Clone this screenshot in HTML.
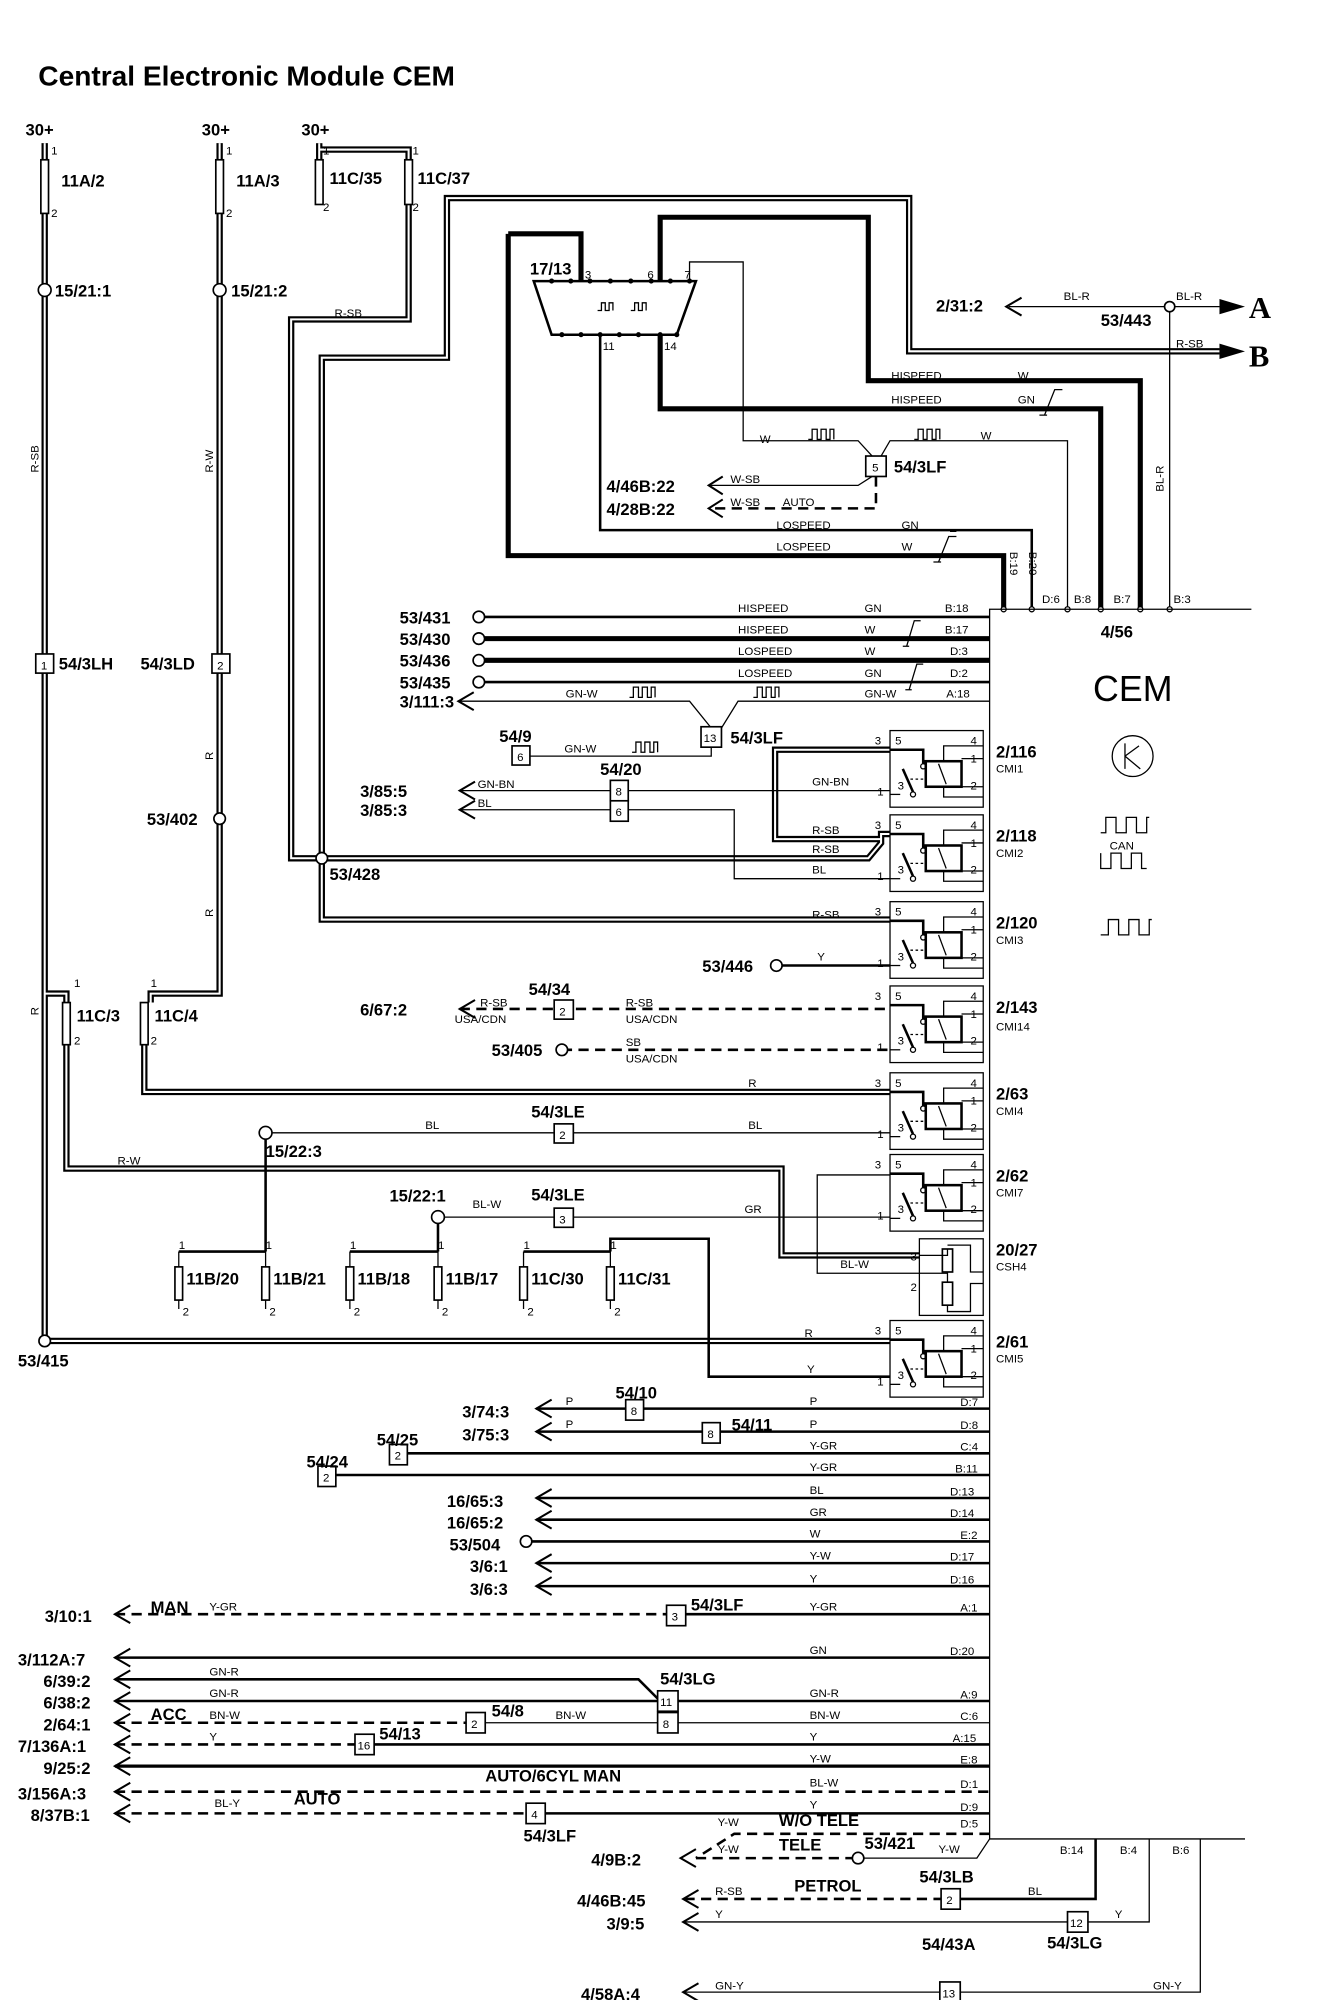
<!DOCTYPE html>
<html><head><meta charset="utf-8"><style>
html,body{margin:0;padding:0;background:#fff}
svg{display:block}
text{font-family:"Liberation Sans",sans-serif;fill:#000}
.b{font-weight:bold;font-size:13px}
.s{font-size:9px}
.p{font-size:9px}
.t{fill:none;stroke:#000;stroke-width:1}
.m{fill:none;stroke:#000;stroke-width:2}
.k{fill:none;stroke:#000;stroke-width:4}
.d{fill:none;stroke:#000;stroke-width:2;stroke-dasharray:8,5}
.bx{fill:#fff;stroke:#000;stroke-width:1.3}
.ar{fill:none;stroke:#000;stroke-width:1.6}
</style></head><body>
<svg width="1328" height="2000" viewBox="0 0 1040 1566" xmlns="http://www.w3.org/2000/svg">
<defs>
<g id="D" fill="none">
<path d="M35,112 V1050 H697"/>
<path d="M172,112 V778 H118 V785"/>
<path d="M35,778 H52 V785"/>
<path d="M52,818 V915 H612 V983 H720"/>
<path d="M113,818 V855 H697"/>
<path d="M250,112 V125"/>
<path d="M250,117 H320 V125"/>
<path d="M320,160 V250 H228 V672 H680 L690,660 V653 H697"/>
<path d="M697,720 H252 V280 H350 V155 H712 V275 H955"/>
<path d="M697,587 H607 V657 H690"/>
</g>
<g id="R">
<rect x="0" y="0" width="73" height="60" class="t" stroke-width="1.3"/>
<path class="m" d="M0,15 H26 V26"/>
<circle cx="26" cy="28" r="2" class="t"/>
<path class="m" d="M10,30 L18,48"/>
<circle cx="18" cy="50" r="2" class="t"/>
<path class="t" d="M0,50 H8"/>
<rect x="28" y="24" width="28" height="20" class="m"/>
<path class="t" d="M38,26 L44,42"/>
<path class="t" stroke-dasharray="2,2" d="M16,38 H28"/>
<path class="t" d="M56,22 H73 M42,24 V12 H73 M56,44 H73 M42,44 V52 H73"/>
</g>
</defs>

<text x="30" y="67" style="font-weight:bold;font-size:22px">Central Electronic Module CEM</text>

<!-- double wires -->
<use href="#D" stroke="#000" stroke-width="5"/>
<use href="#D" stroke="#fff" stroke-width="1.6"/>

<!-- top labels and fuses -->
<text x="20" y="106" class="b">30+</text>
<text x="158" y="106" class="b">30+</text>
<text x="236" y="106" class="b">30+</text>
<g class="bx">
<rect x="32" y="125" width="6" height="42"/><rect x="169" y="125" width="6" height="42"/>
<rect x="247" y="125" width="6" height="35"/><rect x="317" y="125" width="6" height="35"/>
<rect x="49" y="785" width="6" height="33"/><rect x="110" y="785" width="6" height="33"/>
</g>
<g class="s"><text x="40" y="121">1</text><text x="40" y="170">2</text><text x="177" y="121">1</text><text x="177" y="170">2</text>
<text x="253" y="121">1</text><text x="253" y="165">2</text><text x="323" y="121">1</text><text x="323" y="165">2</text>
<text x="58" y="773">1</text><text x="58" y="818">2</text><text x="118" y="773">1</text><text x="118" y="818">2</text></g>
<text x="48" y="146" class="b">11A/2</text><text x="185" y="146" class="b">11A/3</text>
<text x="258" y="144" class="b">11C/35</text><text x="327" y="144" class="b">11C/37</text>
<text x="60" y="800" class="b">11C/3</text><text x="121" y="800" class="b">11C/4</text>
<circle cx="35" cy="227" r="5" class="bx"/><circle cx="172" cy="227" r="5" class="bx"/>
<text x="43" y="232" class="b">15/21:1</text><text x="181" y="232" class="b">15/21:2</text>
<text x="30" y="370" class="s" transform="rotate(-90 30 370)">R-SB</text>
<text x="167" y="370" class="s" transform="rotate(-90 167 370)">R-W</text>
<text x="167" y="595" class="s" transform="rotate(-90 167 595)">R</text>
<text x="167" y="718" class="s" transform="rotate(-90 167 718)">R</text>
<text x="30" y="795" class="s" transform="rotate(-90 30 795)">R</text>
<text x="262" y="248" class="s">R-SB</text>
<rect x="28" y="512" width="14" height="15" class="bx"/><text x="32" y="524" class="s">1</text>
<text x="46" y="524" class="b">54/3LH</text>
<rect x="166" y="512" width="14" height="15" class="bx"/><text x="170" y="524" class="s">2</text>
<text x="110" y="524" class="b">54/3LD</text>
<circle cx="172" cy="641" r="4.5" class="bx"/><text x="115" y="646" class="b">53/402</text>
<circle cx="252" cy="672" r="4.5" class="bx"/><text x="258" y="689" class="b">53/428</text>
<circle cx="35" cy="1050" r="4.5" class="bx"/><text x="14" y="1070" class="b">53/415</text>
<text x="92" y="912" class="s">R-W</text>

<!-- diag connector -->
<path d="M418,220 H545 L530,262 H432 Z" class="m" stroke-width="1.5"/>
<g fill="#000"><circle cx="432" cy="220" r="2"/><circle cx="447" cy="220" r="2"/><circle cx="462" cy="220" r="2"/><circle cx="478" cy="220" r="2"/><circle cx="494" cy="220" r="2"/><circle cx="510" cy="220" r="2"/><circle cx="525" cy="220" r="2"/><circle cx="540" cy="220" r="2"/>
<circle cx="440" cy="262" r="2"/><circle cx="455" cy="262" r="2"/><circle cx="470" cy="262" r="2"/><circle cx="485" cy="262" r="2"/><circle cx="500" cy="262" r="2"/><circle cx="517" cy="262" r="2"/><circle cx="530" cy="262" r="2"/></g>
<text x="415" y="215" class="b">17/13</text><text x="458" y="218" class="s">3</text><text x="507" y="218" class="s">6</text><text x="536" y="218" class="s">7</text>
<text x="472" y="274" class="s">11</text><text x="520" y="274" class="s">14</text>
<path class="t" d="M468,243 h3 v-6 h3 v6 h3 v-6 h3 v6 M494,243 h3 v-6 h3 v6 h3 v-6 h3 v6"/>

<path class="k" d="M398,183 H455 V220 M398,183 V435 H786 V477"/>
<path class="k" d="M517,220 V170 H680 V298 H893 V477"/>
<path class="k" stroke-width="3.5" d="M517,262 V320 H862 V477"/>
<path class="m" stroke-width="3" d="M470,262 V415 H808 V477"/>
<path class="t" d="M540,220 V205 H582 V345 H672 L683,357 M690,357 L697,345 H836 V477"/>
<text x="698" y="297" class="s">HISPEED</text><text x="797" y="297" class="s">W</text>
<text x="698" y="316" class="s">HISPEED</text><text x="797" y="316" class="s">GN</text>
<text x="608" y="414" class="s">LOSPEED</text><text x="706" y="414" class="s">GN</text>
<text x="608" y="431" class="s">LOSPEED</text><text x="706" y="431" class="s">W</text>
<path class="t" d="M818,325 l8,-20 h6 M735,440 l8,-20 h6 M737,440 h-6 M820,325 h-6 M744,416 h5"/>
<text x="595" y="347" class="s">W</text><text x="768" y="344" class="s">W</text>
<path class="t" d="M633,344 h3 v-8 h4 v8 h3 v-8 h4 v8 h3 v-8 h3 v8 M716,344 h3 v-8 h4 v8 h3 v-8 h4 v8 h3 v-8 h3 v8"/>
<rect x="678" y="357" width="16" height="16" class="bx"/><text x="683" y="369" class="s">5</text>
<text x="700" y="370" class="b">54/3LF</text>
<path class="t" stroke-width="1.5" d="M683,373 L672,380 H555"/>
<path class="d" stroke-width="1.5" d="M686,373 V398 H555"/>
<path class="ar" d="M566,373 L555,380 L566,387 M566,391 L555,398 L566,405"/>
<text x="475" y="385" class="b">4/46B:22</text><text x="475" y="403" class="b">4/28B:22</text>
<text x="572" y="378" class="s">W-SB</text><text x="572" y="396" class="s">W-SB</text><text x="613" y="396" class="s">AUTO</text>

<!-- A/B -->
<path class="t" d="M790,240 H955 M916,240 V477"/>
<path class="ar" d="M800,233 L788,240 L800,247"/>
<path d="M955,234 L975,240 L955,246 Z M955,269 L975,275 L955,281 Z"/>
<circle cx="916" cy="240" r="4" class="bx"/>
<text x="733" y="244" class="b">2/31:2</text><text x="833" y="235" class="s">BL-R</text><text x="921" y="235" class="s">BL-R</text>
<text x="862" y="255" class="b">53/443</text><text x="921" y="272" class="s">R-SB</text>
<text x="978" y="249" style="font-family:'Liberation Serif',serif;font-weight:bold;font-size:24px">A</text>
<text x="978" y="287" style="font-family:'Liberation Serif',serif;font-weight:bold;font-size:24px">B</text>
<text x="911" y="385" class="s" transform="rotate(-90 911 385)">BL-R</text>
<text x="791" y="432" class="s" transform="rotate(90 791 432)">B:19</text>
<text x="806" y="432" class="s" transform="rotate(90 806 432)">B:20</text>
<g class="p"><text x="816" y="472">D:6</text><text x="841" y="472">B:8</text><text x="872" y="472">B:7</text><text x="919" y="472">B:3</text></g>
<g fill="#fff" stroke="#000"><circle cx="786" cy="477" r="2"/><circle cx="808" cy="477" r="2"/><circle cx="836" cy="477" r="2"/><circle cx="862" cy="477" r="2"/><circle cx="893" cy="477" r="2"/><circle cx="916" cy="477" r="2"/></g>

<!-- CEM -->
<path class="t" stroke-width="1.5" d="M980,477 H775 V1440 H975"/>
<text x="862" y="499" class="b">4/56</text>
<text x="856" y="549" style="font-size:28px">CEM</text>
<circle cx="887" cy="592" r="16" class="t" stroke-width="1.5"/>
<path class="t" stroke-width="1.5" d="M881,582 V602 M881,592 L892,584 M881,592 L893,602"/>
<path class="t" stroke-width="1.5" d="M862,652 h4 v-12 h8 v12 h8 v-12 h8 v12 h8 v-12 h2 M862,668 v12 h8 v-12 h8 v12 h8 v-12 h8 v12 h4"/>
<text x="869" y="665" class="s">CAN</text>
<path class="t" stroke-width="1.5" d="M862,732 h6 v-12 h8 v12 h8 v-12 h8 v12 h8 v-12 h2"/>

<!-- upper CEM wires -->
<path class="m" stroke-width="3" d="M375,483 H775"/>
<path class="k" stroke-width="5" d="M375,500 H775"/>
<path class="k" d="M375,517 H775"/>
<path class="m" stroke-width="3" d="M375,534 H775"/>
<g class="bx"><circle cx="375" cy="483" r="4.5"/><circle cx="375" cy="500" r="4.5"/><circle cx="375" cy="517" r="4.5"/><circle cx="375" cy="534" r="4.5"/></g>
<text x="313" y="488" class="b">53/431</text><text x="313" y="505" class="b">53/430</text><text x="313" y="522" class="b">53/436</text><text x="313" y="539" class="b">53/435</text>
<text x="578" y="479" class="s">HISPEED</text><text x="677" y="479" class="s">GN</text><text x="740" y="479" class="p">B:18</text>
<text x="578" y="496" class="s">HISPEED</text><text x="677" y="496" class="s">W</text><text x="740" y="496" class="p">B:17</text>
<text x="578" y="513" class="s">LOSPEED</text><text x="677" y="513" class="s">W</text><text x="744" y="513" class="p">D:3</text>
<text x="578" y="530" class="s">LOSPEED</text><text x="677" y="530" class="s">GN</text><text x="744" y="530" class="p">D:2</text>
<path class="t" d="M710,506 l6,-20 h5 M712,506 h-5 M712,540 l6,-20 h5 M714,540 h-5"/>
<path class="t" stroke-width="1.5" d="M360,549 H540 L557,570 M565,570 L578,549 H775"/>
<path class="ar" d="M371,542 L359,549 L371,556"/>
<text x="313" y="554" class="b">3/111:3</text>
<text x="443" y="546" class="s">GN-W</text><text x="677" y="546" class="s">GN-W</text><text x="741" y="546" class="p">A:18</text>
<path class="t" d="M493,546 h3 v-8 h4 v8 h3 v-8 h4 v8 h3 v-8 h3 v8 M590,546 h3 v-8 h4 v8 h3 v-8 h4 v8 h3 v-8 h3 v8 M495,589 h3 v-8 h4 v8 h3 v-8 h4 v8 h3 v-8 h3 v8"/>
<rect x="549" y="569" width="16" height="16" class="bx"/><text x="551" y="581" class="s">13</text>
<text x="572" y="582" class="b">54/3LF</text>
<path class="t" stroke-width="1.5" d="M415,592 H557 V585"/>
<rect x="401" y="584" width="14" height="15" class="bx"/><text x="405" y="596" class="s">6</text>
<text x="391" y="581" class="b">54/9</text><text x="442" y="589" class="s">GN-W</text>

<path class="t" d="M360,619 H697"/>
<path class="t" stroke-width="1.5" d="M360,634 H575 V688 H697"/>
<path class="ar" d="M372,612 L360,619 L372,626 M372,627 L360,634 L372,641"/>
<rect x="478" y="611" width="14" height="16" class="bx"/><text x="482" y="623" class="s">8</text>
<rect x="478" y="627" width="14" height="16" class="bx"/><text x="482" y="639" class="s">6</text>
<text x="470" y="607" class="b">54/20</text>
<text x="282" y="624" class="b">3/85:5</text><text x="282" y="639" class="b">3/85:3</text>
<text x="374" y="617" class="s">GN-BN</text><text x="374" y="632" class="s">BL</text><text x="636" y="615" class="s">GN-BN</text>
<text x="636" y="653" class="s">R-SB</text><text x="636" y="668" class="s">R-SB</text><text x="636" y="684" class="s">BL</text>
<text x="636" y="719" class="s">R-SB</text>

<path class="m" d="M612,756 H697"/>
<circle cx="608" cy="756" r="4.5" class="bx"/><text x="550" y="761" class="b">53/446</text><text x="640" y="752" class="s">Y</text>

<path class="d" stroke-width="1.5" d="M360,790 H697 M440,822 H697"/>
<path class="ar" d="M372,783 L360,790 L372,797"/>
<rect x="434" y="783" width="15" height="15" class="bx"/><text x="438" y="795" class="s">2</text>
<text x="414" y="779" class="b">54/34</text><text x="282" y="795" class="b">6/67:2</text>
<circle cx="440" cy="822" r="4.5" class="bx"/><text x="385" y="827" class="b">53/405</text>
<text x="376" y="788" class="s">R-SB</text><text x="356" y="801" class="s">USA/CDN</text>
<text x="490" y="788" class="s">R-SB</text><text x="490" y="801" class="s">USA/CDN</text>
<text x="490" y="819" class="s">SB</text><text x="490" y="832" class="s">USA/CDN</text>
<text x="586" y="851" class="s">R</text>

<!-- 15/22 -->
<circle cx="208" cy="887" r="5" class="bx"/>
<path class="t" stroke-width="1.5" d="M213,887 H697"/>
<path class="m" d="M208,892 V980"/>
<rect x="434" y="880" width="15" height="15" class="bx"/><text x="438" y="892" class="s">2</text>
<text x="416" y="875" class="b">54/3LE</text><text x="208" y="906" class="b">15/22:3</text>
<text x="333" y="884" class="s">BL</text><text x="586" y="884" class="s">BL</text>
<circle cx="343" cy="953" r="5" class="bx"/>
<path class="t" stroke-width="1.5" d="M348,953 H697"/>
<path class="m" d="M343,958 V980"/>
<rect x="434" y="946" width="15" height="15" class="bx"/><text x="438" y="958" class="s">3</text>
<text x="416" y="940" class="b">54/3LE</text><text x="305" y="941" class="b">15/22:1</text>
<text x="370" y="946" class="s">BL-W</text><text x="583" y="950" class="s">GR</text>
<path class="m" stroke-width="2.5" d="M140,980 H208 M274,980 H343 M410,980 H478 M478,980 V970 H555 V1078 H697"/>
<path class="t" d="M697,920 H640 V997 H720"/>
<text x="658" y="993" class="s">BL-W</text>
<g class="bx"><rect x="137" y="992" width="6" height="26"/><rect x="205" y="992" width="6" height="26"/><rect x="271" y="992" width="6" height="26"/><rect x="340" y="992" width="6" height="26"/><rect x="407" y="992" width="6" height="26"/><rect x="475" y="992" width="6" height="26"/></g>
<path class="t" d="M140,980 V992 M208,980 V992 M274,980 V992 M343,980 V992 M410,980 V992 M478,980 V992 M140,1018 V1025 M208,1018 V1025 M274,1018 V1025 M343,1018 V1025 M410,1018 V1025 M478,1018 V1025"/>
<g class="s"><text x="140" y="978">1</text><text x="208" y="978">1</text><text x="274" y="978">1</text><text x="343" y="978">1</text><text x="410" y="978">1</text><text x="478" y="978">1</text>
<text x="143" y="1030">2</text><text x="211" y="1030">2</text><text x="277" y="1030">2</text><text x="346" y="1030">2</text><text x="413" y="1030">2</text><text x="481" y="1030">2</text></g>
<g class="b"><text x="146" y="1006">11B/20</text><text x="214" y="1006">11B/21</text><text x="280" y="1006">11B/18</text><text x="349" y="1006">11B/17</text><text x="416" y="1006">11C/30</text><text x="484" y="1006">11C/31</text></g>
<text x="630" y="1047" class="s">R</text><text x="632" y="1075" class="s">Y</text>

<!-- relays -->
<use href="#R" x="697" y="572"/><use href="#R" x="697" y="638"/><use href="#R" x="697" y="706"/>
<use href="#R" x="697" y="772"/><use href="#R" x="697" y="840"/><use href="#R" x="697" y="904"/><use href="#R" x="697" y="1034"/>
<g class="s">
<text x="701" y="583">5</text><text x="760" y="583">4</text><text x="760" y="597">1</text><text x="703" y="618">3</text><text x="760" y="618">2</text><text x="685" y="583">3</text><text x="687" y="623">1</text>
<text x="701" y="649">5</text><text x="760" y="649">4</text><text x="760" y="663">1</text><text x="703" y="684">3</text><text x="760" y="684">2</text><text x="685" y="649">3</text><text x="687" y="689">1</text>
<text x="701" y="717">5</text><text x="760" y="717">4</text><text x="760" y="731">1</text><text x="703" y="752">3</text><text x="760" y="752">2</text><text x="685" y="717">3</text><text x="687" y="757">1</text>
<text x="701" y="783">5</text><text x="760" y="783">4</text><text x="760" y="797">1</text><text x="703" y="818">3</text><text x="760" y="818">2</text><text x="685" y="783">3</text><text x="687" y="823">1</text>
<text x="701" y="851">5</text><text x="760" y="851">4</text><text x="760" y="865">1</text><text x="703" y="886">3</text><text x="760" y="886">2</text><text x="685" y="851">3</text><text x="687" y="891">1</text>
<text x="701" y="915">5</text><text x="760" y="915">4</text><text x="760" y="929">1</text><text x="703" y="950">3</text><text x="760" y="950">2</text><text x="685" y="915">3</text><text x="687" y="955">1</text>
<text x="701" y="1045">5</text><text x="760" y="1045">4</text><text x="760" y="1059">1</text><text x="703" y="1080">3</text><text x="760" y="1080">2</text><text x="685" y="1045">3</text><text x="687" y="1085">1</text>
</g>
<g class="b"><text x="780" y="593">2/116</text><text x="780" y="659">2/118</text><text x="780" y="727">2/120</text><text x="780" y="793">2/143</text><text x="780" y="861">2/63</text><text x="780" y="925">2/62</text><text x="780" y="983">20/27</text><text x="780" y="1055">2/61</text></g>
<g class="p"><text x="780" y="605">CMI1</text><text x="780" y="671">CMI2</text><text x="780" y="739">CMI3</text><text x="780" y="807">CMI14</text><text x="780" y="873">CMI4</text><text x="780" y="937">CMI7</text><text x="780" y="995">CSH4</text><text x="780" y="1067">CMI5</text></g>
<!-- CSH4 -->
<rect x="720" y="970" width="50" height="60" class="t" stroke-width="1.3"/>
<rect x="738" y="978" width="8" height="18" class="bx"/><rect x="738" y="1004" width="8" height="18" class="bx"/>
<path class="t" stroke-width="1.5" d="M720,983 H742 V978 M742,996 V1004 M720,997 H742 M742,1022 V1027 H760 V1005 H770 M742,975 H760 V996 H770"/>
<text x="713" y="987" class="s">3</text><text x="713" y="1011" class="s">2</text>

<!-- lower wires -->
<g class="m">
<path d="M420,1103 H775"/><path d="M420,1121 H775"/><path d="M319,1138 H775"/><path d="M263,1155 H775"/>
<path d="M420,1173 H775"/><path d="M420,1190 H775"/><path d="M412,1207 H775"/><path d="M420,1224 H775"/><path d="M420,1242 H775"/>
<path d="M537,1264 H775"/><path d="M90,1298 H775"/><path d="M90,1315 H500 L515,1330"/><path d="M90,1332 H775"/>
<path d="M292,1366 H775"/><path d="M90,1383 H775" stroke-width="2.5"/><path d="M427,1420 H775"/>
</g>
<path class="t" d="M380,1349 H775"/>
<g class="d" stroke-width="1.5">
<path d="M90,1264 H522"/><path d="M90,1349 H365"/><path d="M90,1366 H278"/><path d="M90,1403 H775"/><path d="M90,1420 H412"/>
<path d="M775,1436 H575 L545,1455"/><path d="M545,1455 H672"/><path d="M752,1487 H535"/>
</g>
<path class="t" stroke-width="1.5" d="M672,1455 H765 L775,1440"/>
<path class="m" d="M858,1440 V1487 H752"/>
<path class="t" stroke-width="1.5" d="M900,1440 V1505 H535 M940,1440 V1560 H535"/>
<g class="ar">
<path d="M432,1096 L420,1103 L432,1110 M432,1114 L420,1121 L432,1128 M432,1166 L420,1173 L432,1180 M432,1183 L420,1190 L432,1197 M432,1217 L420,1224 L432,1231 M432,1235 L420,1242 L432,1249"/>
<path d="M102,1257 L90,1264 L102,1271 M102,1291 L90,1298 L102,1305 M102,1308 L90,1315 L102,1322 M102,1325 L90,1332 L102,1339 M102,1342 L90,1349 L102,1356 M102,1359 L90,1366 L102,1373 M102,1376 L90,1383 L102,1390 M102,1396 L90,1403 L102,1410 M102,1413 L90,1420 L102,1427"/>
<path d="M545,1448 L533,1455 L545,1462 M547,1480 L535,1487 L547,1494 M547,1498 L535,1505 L547,1512 M547,1553 L535,1560 L547,1567"/>
</g>
<circle cx="412" cy="1207" r="4.5" class="bx"/><circle cx="672" cy="1455" r="4.5" class="bx"/>
<g class="bx">
<rect x="490" y="1096" width="14" height="16"/><rect x="550" y="1114" width="14" height="16"/><rect x="305" y="1131" width="14" height="16"/><rect x="249" y="1148" width="14" height="16"/>
<rect x="522" y="1257" width="15" height="16"/><rect x="515" y="1324" width="16" height="16"/><rect x="515" y="1341" width="16" height="16"/><rect x="365" y="1341" width="15" height="16"/>
<rect x="278" y="1358" width="15" height="16"/><rect x="412" y="1412" width="15" height="16"/><rect x="737" y="1479" width="15" height="16"/><rect x="836" y="1497" width="16" height="16"/><rect x="736" y="1552" width="16" height="16"/>
</g>
<g class="s">
<text x="494" y="1108">8</text><text x="554" y="1126">8</text><text x="309" y="1143">2</text><text x="253" y="1160">2</text><text x="526" y="1269">3</text>
<text x="517" y="1336">11</text><text x="519" y="1353">8</text><text x="369" y="1353">2</text><text x="280" y="1370">16</text><text x="416" y="1424">4</text>
<text x="741" y="1491">2</text><text x="838" y="1509">12</text><text x="738" y="1564">13</text>
</g>
<g class="b">
<text x="482" y="1095">54/10</text><text x="573" y="1120">54/11</text><text x="295" y="1132">54/25</text><text x="240" y="1149">54/24</text>
<text x="362" y="1110">3/74:3</text><text x="362" y="1128">3/75:3</text><text x="350" y="1180">16/65:3</text><text x="350" y="1197">16/65:2</text>
<text x="352" y="1214">53/504</text><text x="368" y="1231">3/6:1</text><text x="368" y="1249">3/6:3</text>
<text x="35" y="1270">3/10:1</text><text x="541" y="1261">54/3LF</text>
<text x="14" y="1304">3/112A:7</text><text x="34" y="1321">6/39:2</text><text x="34" y="1338">6/38:2</text><text x="34" y="1355">2/64:1</text>
<text x="14" y="1372">7/136A:1</text><text x="34" y="1389">9/25:2</text><text x="14" y="1409">3/156A:3</text><text x="24" y="1426">8/37B:1</text>
<text x="517" y="1319">54/3LG</text><text x="385" y="1344">54/8</text><text x="297" y="1362">54/13</text><text x="410" y="1442">54/3LF</text>
<text x="463" y="1461">4/9B:2</text><text x="677" y="1448">53/421</text><text x="452" y="1493">4/46B:45</text><text x="475" y="1511">3/9:5</text>
<text x="720" y="1474">54/3LB</text><text x="820" y="1526">54/3LG</text><text x="722" y="1527">54/43A</text><text x="455" y="1566">4/58A:4</text>
<text x="118" y="1347">ACC</text><text x="118" y="1263">MAN</text><text x="380" y="1395">AUTO/6CYL MAN</text><text x="230" y="1413">AUTO</text>
<text x="610" y="1430">W/O TELE</text><text x="610" y="1449">TELE</text><text x="622" y="1481">PETROL</text>
</g>
<g class="s">
<text x="443" y="1100">P</text><text x="634" y="1100">P</text><text x="443" y="1118">P</text><text x="634" y="1118">P</text>
<text x="634" y="1135">Y-GR</text><text x="634" y="1152">Y-GR</text><text x="634" y="1170">BL</text><text x="634" y="1187">GR</text><text x="634" y="1204">W</text>
<text x="634" y="1221">Y-W</text><text x="634" y="1239">Y</text><text x="634" y="1261">Y-GR</text><text x="164" y="1261">Y-GR</text>
<text x="634" y="1295">GN</text><text x="164" y="1312">GN-R</text><text x="164" y="1329">GN-R</text><text x="634" y="1329">GN-R</text>
<text x="164" y="1346">BN-W</text><text x="435" y="1346">BN-W</text><text x="634" y="1346">BN-W</text><text x="164" y="1363">Y</text><text x="634" y="1363">Y</text>
<text x="634" y="1380">Y-W</text><text x="634" y="1399">BL-W</text><text x="168" y="1415">BL-Y</text><text x="634" y="1416">Y</text>
<text x="562" y="1430">Y-W</text><text x="562" y="1451">Y-W</text><text x="735" y="1451">Y-W</text>
<text x="560" y="1484">R-SB</text><text x="805" y="1484">BL</text><text x="560" y="1502">Y</text><text x="873" y="1502">Y</text>
<text x="560" y="1558">GN-Y</text><text x="903" y="1558">GN-Y</text>
</g>
<g class="p">
<text x="752" y="1101">D:7</text><text x="752" y="1119">D:8</text><text x="752" y="1136">C:4</text><text x="748" y="1153">B:11</text><text x="744" y="1171">D:13</text>
<text x="744" y="1188">D:14</text><text x="752" y="1205">E:2</text><text x="744" y="1222">D:17</text><text x="744" y="1240">D:16</text><text x="752" y="1262">A:1</text>
<text x="744" y="1296">D:20</text><text x="752" y="1330">A:9</text><text x="752" y="1347">C:6</text><text x="746" y="1364">A:15</text><text x="752" y="1381">E:8</text>
<text x="752" y="1400">D:1</text><text x="752" y="1418">D:9</text><text x="752" y="1431">D:5</text>
<text x="830" y="1452">B:14</text><text x="877" y="1452">B:4</text><text x="918" y="1452">B:6</text>
</g>
</svg>
</body></html>
